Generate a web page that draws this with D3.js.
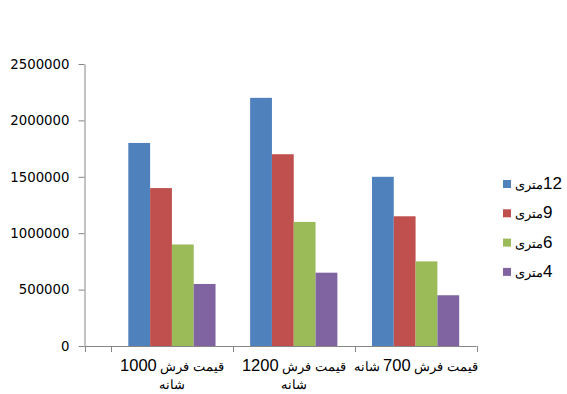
<!DOCTYPE html>
<html>
<head>
<meta charset="utf-8">
<script src="https://cdn.jsdelivr.net/npm/d3@7"></script>
<style>
  body { margin: 0; background: #fff; }
  .rtl { direction: rtl; unicode-bidi: embed; }
</style>
</head>
<body>
<div id="chart"></div>
<script>
// data
const categories = ["قیمت فرش 1000 شانه", "قیمت فرش 1200 شانه", "قیمت فرش 700 شانه"];
const categoryLines = [["قیمت فرش 1000", "شانه"], ["قیمت فرش 1200", "شانه"], ["قیمت فرش 700 شانه"]];
const seriesNames = ["12متری", "9متری", "6متری", "4متری"];
const seriesColors = ["#4F81BD", "#C0504D", "#9BBB59", "#8064A2"];
const values12 = [1800000, 2200000, 1500000];
const values9 = [1400000, 1700000, 1150000];
const values6 = [900000, 1100000, 750000];
const values4 = [550000, 650000, 450000];
const yTicks = [0, 500000, 1000000, 1500000, 2000000, 2500000];

const allSeries = [values12, values9, values6, values4];

const W = 567, H = 394;
const margin = {top: 64, left: 84.5};
const catStart = 111, catEnd = 476.5;
const axisColor = "#868686";

// digits in Arial-like font, arabic words smaller (falls back to DejaVu)
function addRuns(sel, str, numSize, arSize) {
    const parts = str.match(/[0-9]+|[^0-9]+/g);
    parts.forEach(p => {
        sel.append("tspan")
            .attr("font-size", /[0-9]/.test(p) ? numSize : arSize)
            .text(p);
    });
}

const svg = d3.select("#chart").append("svg")
    .attr("width", W)
    .attr("height", H);

const y = d3.scaleLinear().domain([0, 2500000]).range([346, margin.top]);

const x = d3.scaleBand().domain(d3.range(categories.length)).range([catStart, catEnd]).padding(0);
const xs = d3.scaleBand().domain(d3.range(seriesNames.length))
    .range([x.bandwidth() * 0.142, x.bandwidth() * 0.858]).padding(0);

// bars
const groups = svg.selectAll("g.cat")
    .data(categories)
    .enter().append("g")
    .attr("class", "cat")
    .attr("transform", (d, i) => "translate(" + x(i) + ",0)");

groups.selectAll("rect")
    .data((d, i) => allSeries.map((s, j) => ({s: j, v: s[i]})))
    .enter().append("rect")
    .attr("x", d => xs(d.s))
    .attr("width", xs.bandwidth())
    .attr("y", d => y(d.v))
    .attr("height", d => y(0) - y(d.v))
    .attr("fill", d => seriesColors[d.s]);

// y axis
const yAxis = svg.append("g")
    .attr("transform", "translate(" + margin.left + ",0)")
    .call(d3.axisLeft(y).tickValues(yTicks).tickFormat(d3.format("d")).tickSize(6).tickSizeOuter(0).tickPadding(9));
yAxis.select(".domain").attr("stroke", axisColor);
yAxis.selectAll(".tick line").attr("stroke", axisColor);
yAxis.selectAll("text")
    .attr("font-family", "DejaVu Sans, Verdana, sans-serif")
    .attr("font-size", 13.3)
    .attr("fill", "#000");

// x axis line and ticks
svg.append("line")
    .attr("x1", margin.left).attr("x2", catEnd)
    .attr("y1", y(0) + 0.5).attr("y2", y(0) + 0.5)
    .attr("stroke", axisColor);
const tickXs = [margin.left].concat(d3.range(categories.length + 1).map(i => i < categories.length ? x(i) : catEnd));
svg.selectAll("line.xtick")
    .data(tickXs)
    .enter().append("line")
    .attr("class", "xtick")
    .attr("x1", d => Math.round(d) + 0.5).attr("x2", d => Math.round(d) + 0.5)
    .attr("y1", y(0)).attr("y2", y(0) + 6)
    .attr("stroke", axisColor);

// x labels
categoryLines.forEach((lines, i) => {
    lines.forEach((line, k) => {
        const t = svg.append("text")
            .attr("class", "rtl")
            .attr("x", x(i) + x.bandwidth() / 2)
            .attr("y", 371 + k * 18)
            .attr("text-anchor", "middle")
            .attr("font-family", "Liberation Sans, Arial, sans-serif")
            .attr("fill", "#000");
        addRuns(t, line, 16.5, 12.5);
    });
});

// legend
const legend = svg.selectAll("g.legend")
    .data(seriesNames)
    .enter().append("g")
    .attr("class", "legend")
    .attr("transform", (d, i) => "translate(503," + (180 + i * 29.3) + ")");
legend.append("rect")
    .attr("width", 8).attr("height", 8)
    .attr("fill", (d, i) => seriesColors[i]);
legend.each(function(d) {
    const t = d3.select(this).append("text")
        .attr("class", "rtl")
        .attr("x", 12)
        .attr("y", 9)
        .attr("text-anchor", "end")
        .attr("font-family", "Liberation Sans, Arial, sans-serif")
        .attr("fill", "#000");
    addRuns(t, d, 17, 12.5);
});
</script>
</body>
</html>
